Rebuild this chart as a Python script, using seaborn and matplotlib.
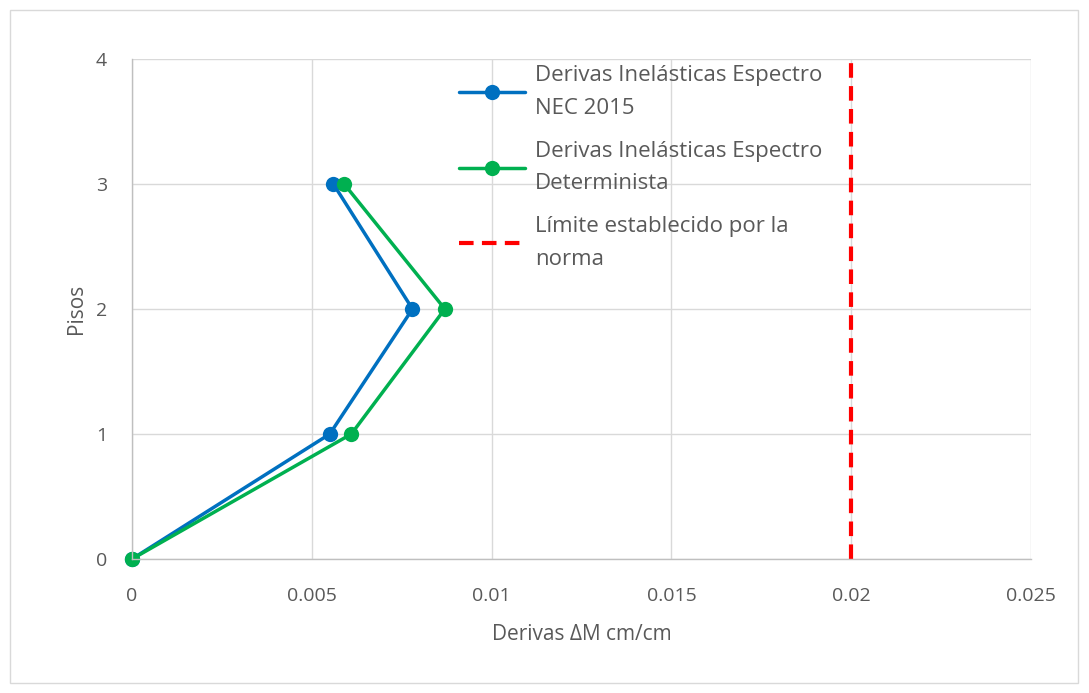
# Derivas inelásticas por piso - NEC 2015 vs espectro determinista

import pandas as pd
import matplotlib.pyplot as plt
import seaborn as sns
from matplotlib.patches import Rectangle

pisos = [0, 1, 2, 3]
derivas_nec = [0.0, 0.0055, 0.0078, 0.0056]
derivas_det = [0.0, 0.0061, 0.0087, 0.0059]
limite_norma = 0.02

x_ticks = [0, 0.005, 0.01, 0.015, 0.02, 0.025]
x_labels = ['0', '0.005', '0.01', '0.015', '0.02', '0.025']
y_ticks = [0, 1, 2, 3, 4]

df = pd.DataFrame({'piso': pisos, 'nec': derivas_nec, 'det': derivas_det})

sns.set_theme(style='white')
plt.rcParams['font.family'] = ['Open Sans', 'DejaVu Sans']
gris = '#595959'

fig = plt.figure(figsize=(10.89, 6.93), dpi=100)
ax = fig.add_axes([132 / 1089, 1 - 559 / 693, (1031 - 132) / 1089, (559 - 59) / 693])

# borde del area del grafico
fig.patches.append(Rectangle((10 / 1089, 10 / 693), 1068 / 1089, 673 / 693,
                             transform=fig.transFigure, fill=False,
                             edgecolor='#d9d9d9', linewidth=1))

sns.lineplot(data=df, x='nec', y='piso', sort=False, ax=ax, color='#0070C0',
             marker='o', markersize=11, markeredgewidth=0, linewidth=2.5,
             clip_on=False, label='Derivas Inelásticas Espectro\nNEC 2015')
sns.lineplot(data=df, x='det', y='piso', sort=False, ax=ax, color='#00B050',
             marker='o', markersize=11, markeredgewidth=0, linewidth=2.5,
             clip_on=False, label='Derivas Inelásticas Espectro\nDeterminista')
ax.axvline(limite_norma, color='#FF0000', linestyle=(0, (3.5, 2)), linewidth=3,
           label='Límite establecido por la\nnorma')

ax.set_xlim(0, 0.025)
ax.set_ylim(0, 4)
ax.set_xticks(x_ticks)
ax.set_xticklabels(x_labels)
ax.set_yticks(y_ticks)
ax.grid(True, color='#d9d9d9', linewidth=1)
ax.set_axisbelow(True)

for s in ['top', 'right']:
    ax.spines[s].set_visible(False)
for s in ['left', 'bottom']:
    ax.spines[s].set_color('#bfbfbf')
    ax.spines[s].set_linewidth(1)

ax.tick_params(axis='both', colors=gris, labelsize=14, length=0)
ax.tick_params(axis='x', pad=20)
ax.tick_params(axis='y', pad=18)
ax.set_xlabel('Derivas ΔM cm/cm', color=gris, fontsize=15, labelpad=14)
ax.set_ylabel('Pisos', color=gris, fontsize=15, labelpad=6)

leg = ax.legend(loc='upper left', bbox_to_anchor=(0.341, 1.027), frameon=False,
                fontsize=16, labelcolor=gris, handlelength=3.0,
                labelspacing=1.0, handletextpad=0.45)
for t in leg.get_texts():
    t.set_linespacing(1.7)

fig.savefig('out.png', dpi=100)
